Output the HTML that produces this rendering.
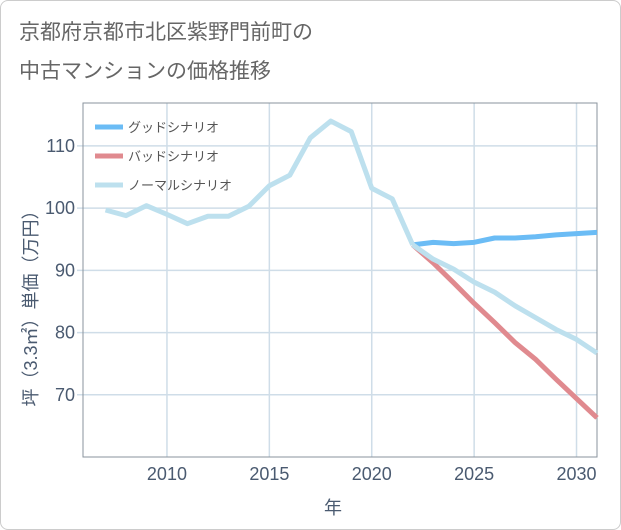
<!DOCTYPE html>
<html><head><meta charset="utf-8"><style>
body{margin:0;background:#fff;}
#wrap{position:relative;width:619px;height:528px;border:1px solid #ccc;border-radius:8px;overflow:hidden;background:#fff;font-family:"Liberation Sans","Noto Sans CJK JP",sans-serif;}
#title{position:absolute;left:18px;top:12px;font-size:21px;line-height:39px;color:#666;}
</style></head><body>
<div id="wrap">
<div id="title">京都府京都市北区紫野門前町の<br>中古マンションの価格推移</div>
<svg id="chart" width="621" height="530" style="position:absolute;left:-1px;top:-1px"></svg>
</div>
<script>
const years=[2007,2008,2009,2010,2011,2012,2013,2014,2015,2016,2017,2018,2019,2020,2021,2022];
const normalHist=[99.7,98.8,100.4,99.0,97.5,98.7,98.7,100.3,103.6,105.3,111.3,114.0,112.3,103.2,101.5,94.1];
const futureYears=[2022,2023,2024,2025,2026,2027,2028,2029,2030,2031];
const goodVals=[94.1,94.5,94.3,94.5,95.2,95.2,95.4,95.7,95.9,96.1];
const badVals=[94.1,91.2,88.0,84.7,81.6,78.4,75.7,72.5,69.4,66.3];
const normalVals=[94.1,91.8,90.2,88.1,86.5,84.3,82.4,80.5,78.9,76.7];
const xTicks=[2010,2015,2020,2025,2030];
const yTicks=[70,80,90,100,110];
const L=83,R=597,T=103,B=457,X0=2005.9,X1=2031,Y0=60,Y1=116.9;
const sx=v=>L+(v-X0)/(X1-X0)*(R-L);
const sy=v=>B-(v-Y0)/(Y1-Y0)*(B-T);
const svg=document.getElementById('chart');const NS='http://www.w3.org/2000/svg';
function mk(t,a){const e=document.createElementNS(NS,t);for(const k in a)e.setAttribute(k,a[k]);svg.appendChild(e);return e;}
xTicks.forEach(v=>{const g=mk('line',{x1:sx(v),x2:sx(v),y1:T,y2:B,stroke:'#cfdde8','stroke-width':1.5});


const t=mk('text',{x:sx(v),y:B+23,'text-anchor':'middle','font-size':18,fill:'#4a5a70'});t.textContent=v;

});
yTicks.forEach(v=>{const g=mk('line',{x1:L-6,x2:R,y1:sy(v),y2:sy(v),stroke:'#cfdde8','stroke-width':1.5});


const t=mk('text',{x:L-8,y:sy(v)+6,'text-anchor':'end','font-size':18,fill:'#4a5a70'});t.textContent=v;

});
const box=mk('rect',{x:L,y:T,width:R-L,height:B-T,fill:'none',stroke:'#8a939c','stroke-width':1});


function line(xs,ys,c,name){const p=mk('polyline',{points:xs.map((x,i)=>sx(x)+','+sy(ys[i])).join(' '),fill:'none',stroke:c,'stroke-width':5,'stroke-linejoin':'round'});

}
line(futureYears,goodVals,'#6bbcf5','good-scenario-line');
line(futureYears,badVals,'#e08a8f','bad-scenario-line');
line(futureYears,normalVals,'#bde0ee','normal-scenario-line');
line(years,normalHist,'#bde0ee','historical-line');
const legend=[['グッドシナリオ','#6bbcf5'],['バッドシナリオ','#e08a8f'],['ノーマルシナリオ','#bde0ee']];
legend.forEach((l,i)=>{const y=127+i*29;const s=mk('line',{x1:95,x2:123,y1:y,y2:y,stroke:l[1],'stroke-width':5});


const t=mk('text',{x:128,y:y+5,'font-size':13,fill:'#555'});t.textContent=l[0];

});
const xt=mk('text',{x:333,y:514,'text-anchor':'middle','font-size':18,fill:'#4a5a70'});xt.textContent='年';


const yt=mk('text',{x:0,y:0,'text-anchor':'middle','font-size':18,fill:'#4a5a70',transform:'translate(37,304) rotate(-90)'});yt.textContent='坪（3.3㎡）単価（万円）';


</script>
</body></html>
